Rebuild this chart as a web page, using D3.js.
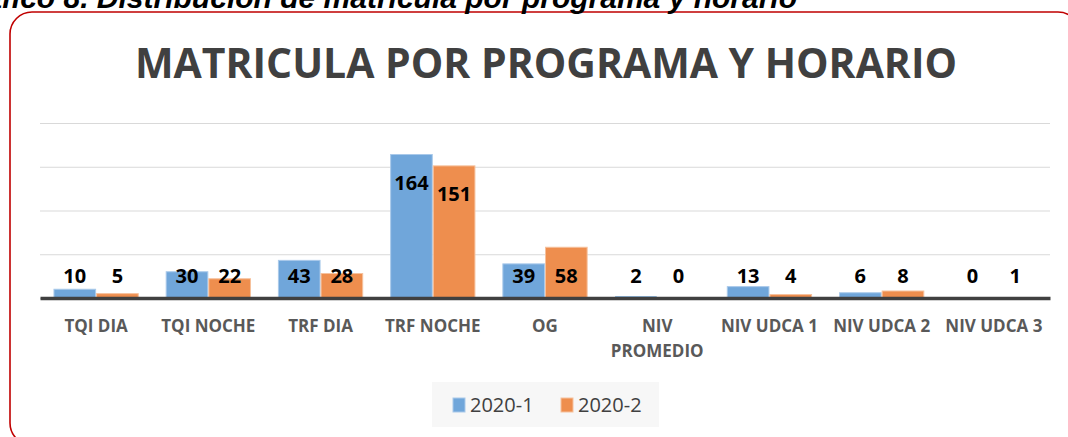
<!DOCTYPE html>
<html>
<head>
<meta charset="utf-8">
<script src="https://cdn.jsdelivr.net/npm/d3@7"></script>
<style>
  html, body { margin: 0; padding: 0; background: #fff; }
  svg { display: block; }
</style>
</head>
<body>
<svg id="chart" width="1068" height="437"></svg>
<script>
  // data
  var categories = ["TQI DIA", "TQI NOCHE", "TRF DIA", "TRF NOCHE", "OG", "NIV PROMEDIO", "NIV UDCA 1", "NIV UDCA 2", "NIV UDCA 3"];
  var series = ["2020-1", "2020-2"];
  var values2020_1 = [10, 30, 43, 164, 39, 2, 13, 6, 0];
  var values2020_2 = [5, 22, 28, 151, 58, 0, 4, 8, 1];
  var yTicks = [0, 50, 100, 150, 200];
  var colors = ["#70a6da", "#ee8e4e"];
  var strokes = ["#a9c9ea", "#f6c19d"];

  var svg = d3.select("#chart");
  var width = +svg.attr("width");

  // red rounded frame (runs off the picture right and bottom)
  svg.append("rect")
    .attr("x", 10).attr("y", 12)
    .attr("width", 1070).attr("height", 433)
    .attr("rx", 22).attr("ry", 22)
    .attr("fill", "none")
    .attr("stroke", "#c00000")
    .attr("stroke-width", 1.6);

  // caption of the document, cut off at the top
  svg.append("text")
    .attr("x", 797).attr("y", 8)
    .attr("text-anchor", "end")
    .attr("font-family", "Liberation Sans, Arial, sans-serif")
    .attr("font-weight", "bold")
    .attr("font-style", "italic")
    .attr("font-size", 30)
    .attr("fill", "#000")
    .text("Gráfico 8. Distribución de matrícula por programa y horario");

  svg.append("text")
    .attr("x", 546).attr("y", 78)
    .attr("text-anchor", "middle")
    .attr("font-family", "Open Sans, sans-serif")
    .attr("font-weight", "bold")
    .attr("font-size", 42)
    .attr("fill", "#404040")
    .attr("textLength", 822)
    .attr("lengthAdjust", "spacingAndGlyphs")
    .text("MATRICULA POR PROGRAMA Y HORARIO");

  var margin = { left: 40, right: 18, top: 123, bottom: 139 };
  var innerWidth = width - margin.left - margin.right;
  var innerHeight = 298 - margin.top;

  var g = svg.append("g").attr("transform", "translate(" + margin.left + "," + margin.top + ")");

  var x0 = d3.scaleBand().domain(categories).range([0, innerWidth]).paddingInner(0.24).paddingOuter(0.12);
  var x1 = d3.scaleBand().domain(series).range([0, x0.bandwidth()]);
  var y = d3.scaleLinear().domain([0, 200]).range([innerHeight, 0]);

  // gridlines
  var yAxis = d3.axisLeft(y).tickValues(yTicks).tickSize(-innerWidth).tickFormat("");
  g.append("g").call(yAxis)
    .call(function (a) { a.select(".domain").remove(); })
    .selectAll("line")
    .attr("stroke", "#d9d9d9")
    .attr("stroke-width", 1.2);

  var rows = categories.map(function (c, i) {
    return { cat: c, vals: [values2020_1[i], values2020_2[i]] };
  });

  var groups = g.selectAll("g.cat")
    .data(rows)
    .enter().append("g")
    .attr("class", "cat")
    .attr("transform", function (d) { return "translate(" + x0(d.cat) + ",0)"; });

  groups.selectAll("rect")
    .data(function (d) { return d.vals.map(function (v, k) { return { s: series[k], v: v, k: k }; }); })
    .enter().append("rect")
    .attr("x", function (d) { return x1(d.s) + 0.5; })
    .attr("width", x1.bandwidth() - 1)
    .attr("y", function (d) { return y(d.v); })
    .attr("height", function (d) { return innerHeight - y(d.v); })
    .attr("fill", function (d) { return colors[d.k]; })
    .attr("stroke", function (d) { return innerHeight - y(d.v) > 3 ? strokes[d.k] : "none"; })
    .attr("stroke-width", 1);

  // baseline
  var xAxis = d3.axisBottom(x0).tickSize(0).tickFormat("");
  g.append("g")
    .attr("transform", "translate(0," + innerHeight + ")")
    .call(xAxis)
    .select(".domain")
    .attr("stroke", "#404040")
    .attr("stroke-width", 3.4);

  // data labels
  groups.selectAll("text.val")
    .data(function (d) { return d.vals.map(function (v, k) { return { s: series[k], v: v, k: k }; }); })
    .enter().append("text")
    .attr("class", "val")
    .attr("x", function (d) { return x1(d.s) + x1.bandwidth() / 2; })
    .attr("y", function (d) { return Math.min(y(d.v) + 28, innerHeight - 23) + 7.5; })
    .attr("text-anchor", "middle")
    .attr("font-family", "Open Sans, sans-serif")
    .attr("font-weight", "bold")
    .attr("font-size", 20)
    .attr("fill", "#000")
    .text(function (d) { return d.v; });

  // category labels, wrapped like the original
  var labelLines = { "NIV PROMEDIO": ["NIV", "PROMEDIO"] };
  var catLabels = g.append("g").selectAll("text")
    .data(categories)
    .enter().append("text")
    .attr("x", function (d) { return x0(d) + x0.bandwidth() / 2; })
    .attr("y", innerHeight + 34)
    .attr("text-anchor", "middle")
    .attr("font-family", "Open Sans, sans-serif")
    .attr("font-weight", "bold")
    .attr("font-size", 17)
    .attr("fill", "#595959");
  catLabels.each(function (d) {
    var lines = labelLines[d] || [d];
    var t = d3.select(this);
    lines.forEach(function (l, i) {
      t.append("tspan")
        .attr("x", x0(d) + x0.bandwidth() / 2)
        .attr("dy", i === 0 ? 0 : 25)
        .text(l);
    });
  });

  // legend
  var legend = svg.append("g");
  legend.append("rect")
    .attr("x", 432).attr("y", 382)
    .attr("width", 227).attr("height", 45)
    .attr("fill", "#f7f7f7");
  var legendX = [453, 561];
  series.forEach(function (s, k) {
    legend.append("rect")
      .attr("x", legendX[k]).attr("y", 398)
      .attr("width", 12).attr("height", 14)
      .attr("fill", colors[k])
      .attr("stroke", strokes[k]);
    legend.append("text")
      .attr("x", legendX[k] + 17).attr("y", 412)
      .attr("font-family", "Open Sans, sans-serif")
      .attr("font-size", 20)
      .attr("fill", "#404040")
      .text(s);
  });
</script>
</body>
</html>
